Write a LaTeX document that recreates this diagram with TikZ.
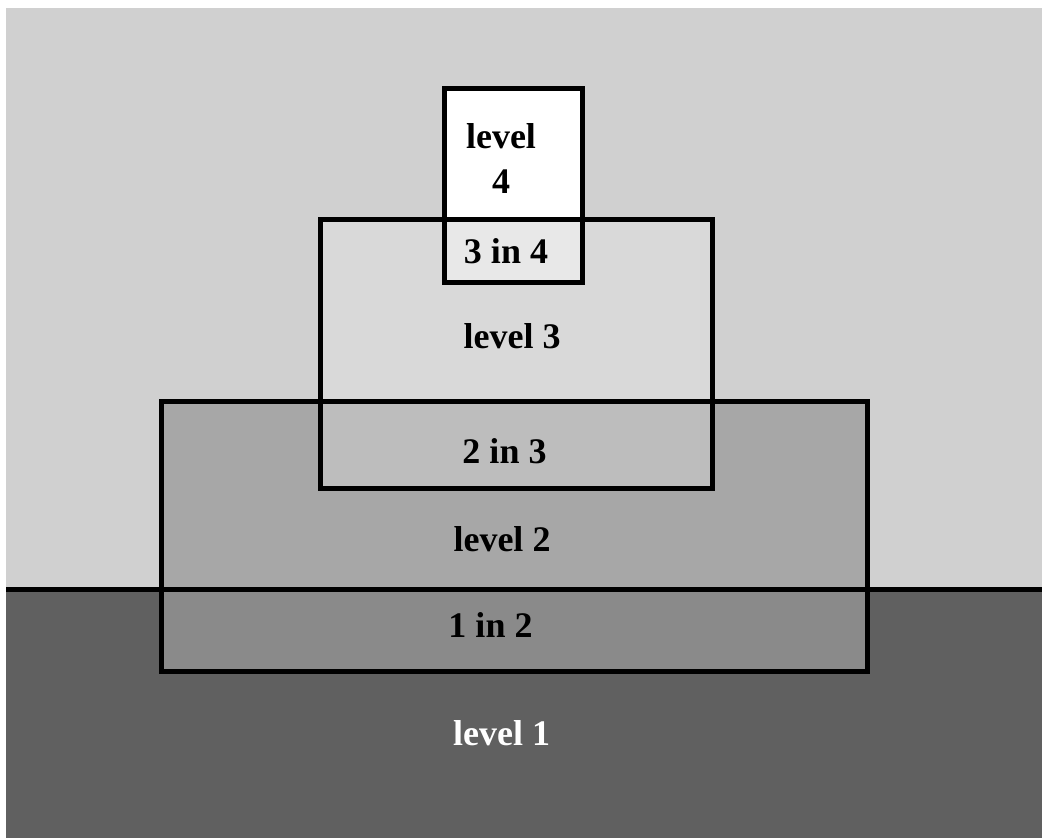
\documentclass[tikz,border=0pt]{standalone}
\usepackage{fontspec}
\setmainfont{Liberation Serif}
\definecolor{sky}{gray}{0.815}
\definecolor{earth}{gray}{0.375}
\definecolor{lvtwo}{gray}{0.655}
\definecolor{onetwo}{gray}{0.54}
\definecolor{lvthree}{gray}{0.85}
\definecolor{twothree}{gray}{0.74}
\definecolor{threefour}{gray}{0.91}
\tikzset{
  outline/.style={draw=black, line width=5pt, line join=miter},
  lbl/.style={font=\fontsize{36}{45}\selectfont\bfseries, inner sep=0pt, anchor=base, text=black},
}
\begin{document}
\begin{tikzpicture}[x=1pt,y=-1pt]
\useasboundingbox (0,0) rectangle (1042,838);
\fill[white] (0,0) rectangle (1042,838);
% ground and sky
\fill[sky] (6,8) rectangle (1042,589);
\fill[earth] (6,589) rectangle (1042,838);
% level 2
\fill[lvtwo] (161,401) rectangle (867,589);
\fill[onetwo] (161,589) rectangle (867,671);
% level 3
\fill[lvthree] (320,219) rectangle (712,401);
\fill[twothree] (320,401) rectangle (712,488);
% level 4
\fill[white] (444,88) rectangle (582,219);
\fill[threefour] (444,219) rectangle (582,282);
% outlines
\draw[outline] (161,401) rectangle (867,671);
\draw[outline] (320,219) rectangle (712,488);
\draw[outline] (444,88) rectangle (582,282);
\draw[outline] (6,589) -- (1042,589);
% labels
\node[lbl, anchor=center, align=center] (l4) at (501,158.6) {level\\4};
\node[lbl] (t34) at (506,263) {3 in 4};
\node[lbl] (l3) at (512,348) {level 3};
\node[lbl] (t23) at (504.5,463) {2 in 3};
\node[lbl] (l2) at (502,551) {level 2};
\node[lbl] (t12) at (490.5,637) {1 in 2};
\node[lbl, text=white] (l1) at (501.5,745) {level 1};
\end{tikzpicture}
\end{document}
